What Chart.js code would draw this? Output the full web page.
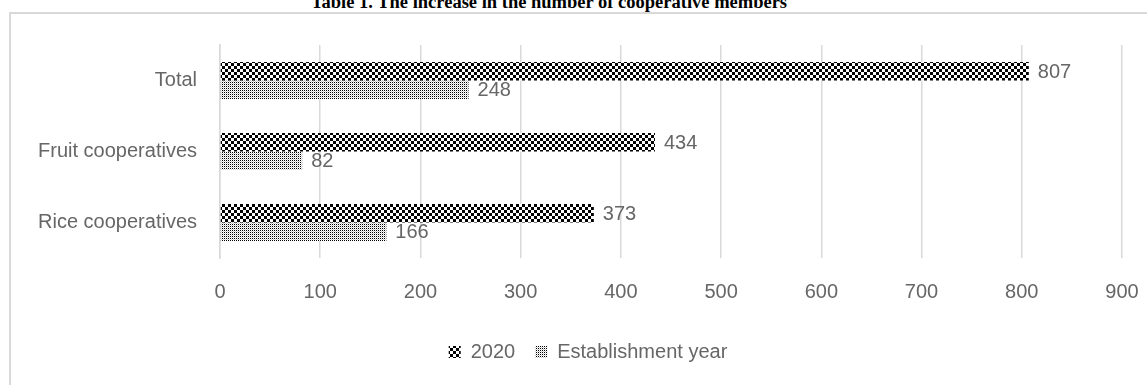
<!doctype html>
<html>
<head>
    <meta charset="UTF-8"/>
    <title>Cooperative members</title>
    <script src="https://cdn.jsdelivr.net/npm/chart.js@4/dist/chart.umd.min.js"></script>
    <style>
        body { margin: 0; overflow: hidden; background: #fff; }
        #title {
            position: absolute; left: 0; top: -7.5px; width: 1098px;
            text-align: center; white-space: nowrap;
            font: bold 18.5px/18.5px "Liberation Serif", "Times New Roman", serif; color: #000;
        }
        #frame {
            position: absolute; left: 9px; top: 12px; width: 1200px; height: 400px;
            border-top: 2px solid #d9d9d9; border-left: 2px solid #d9d9d9;
        }
        #wrap { position: absolute; left: 0; top: 0; width: 1147px; height: 385px; }
    </style>
</head>
<body>
<div id="title">Table 1. The increase in the number of cooperative members</div>
<div id="frame"></div>
<div id="wrap"><canvas id="myChart" width="1147" height="385"></canvas></div>

<script>
    // values
    const categories = ['Total', 'Fruit cooperatives', 'Rice cooperatives'];
    const members2020 = [807, 434, 373];
    const membersEstablishment = [248, 82, 166];

    const textColor = '#666666';
    const fontFamily = '"Liberation Sans", Arial, sans-serif';

    // checkerboard fill for 2020
    function checkerPattern() {
        const c = document.createElement('canvas');
        c.width = 6; c.height = 6;
        const g = c.getContext('2d');
        g.fillStyle = '#fff'; g.fillRect(0, 0, 6, 6);
        g.fillStyle = '#000';
        g.fillRect(0, 0, 3, 3);
        g.fillRect(3, 3, 3, 3);
        return g.createPattern(c, 'repeat');
    }

    // fine dots for establishment year
    function dotPattern() {
        const c = document.createElement('canvas');
        c.width = 2; c.height = 2;
        const g = c.getContext('2d');
        g.fillStyle = '#fff'; g.fillRect(0, 0, 2, 2);
        g.fillStyle = '#000'; g.fillRect(0, 0, 1, 1);
        g.fillStyle = '#cccccc'; g.fillRect(1, 1, 1, 1);
        return g.createPattern(c, 'repeat');
    }

    const valueLabels = {
        id: 'valueLabels',
        afterDatasetsDraw(chart) {
            const ctx = chart.ctx;
            ctx.save();
            ctx.font = '20px ' + fontFamily;
            ctx.fillStyle = textColor;
            ctx.textAlign = 'left';
            ctx.textBaseline = 'middle';
            chart.data.datasets.forEach((ds, i) => {
                chart.getDatasetMeta(i).data.forEach((bar, j) => {
                    ctx.fillText(ds.data[j], bar.x + 9, bar.y + 1);
                });
            });
            ctx.restore();
        }
    };

    // legend sits a bit right of the canvas centre and lower than Chart.js puts it
    const legendPlace = {
        id: 'legendPlace',
        afterLayout(chart) {
            const lg = chart.legend;
            const h = lg.bottom - lg.top;
            lg.left += 22;
            lg.right += 22;
            lg.top = 322;
            lg.bottom = 322 + h;
        }
    };

    const ctx = document.getElementById('myChart').getContext('2d');
    const myChart = new Chart(ctx, {
        type: 'bar',
        data: {
            labels: categories,
            datasets: [
                {
                    label: '2020',
                    data: members2020,
                    backgroundColor: checkerPattern(),
                    borderWidth: 0
                },
                {
                    label: 'Establishment year',
                    data: membersEstablishment,
                    backgroundColor: dotPattern(),
                    borderWidth: 0
                }
            ]
        },
        options: {
            indexAxis: 'y',
            responsive: false,
            animation: false,
            categoryPercentage: 0.52,
            barPercentage: 1,
            layout: { padding: { top: 45, left: 10, right: 25, bottom: 9 } },
            scales: {
                x: {
                    min: 0,
                    max: 900,
                    ticks: {
                        stepSize: 100,
                        padding: 8,
                        color: textColor,
                        font: { family: fontFamily, size: 20, lineHeight: 2.6 }
                    },
                    grid: { color: '#d9d9d9', lineWidth: 1.5, drawTicks: false },
                    border: { display: false }
                },
                y: {
                    afterFit(scale) { scale.width = 210; },
                    ticks: {
                        padding: 23,
                        color: textColor,
                        font: { family: fontFamily, size: 20 }
                    },
                    grid: { display: false, drawTicks: false },
                    border: { display: true, color: '#d9d9d9', width: 1.5 }
                }
            },
            plugins: {
                legend: {
                    position: 'bottom',
                    labels: {
                        boxWidth: 12,
                        boxHeight: 12,
                        padding: 20,
                        color: textColor,
                        font: { family: fontFamily, size: 20 }
                    }
                },
                tooltip: { enabled: false }
            }
        },
        plugins: [valueLabels, legendPlace]
    });
</script>
</body>
</html>
